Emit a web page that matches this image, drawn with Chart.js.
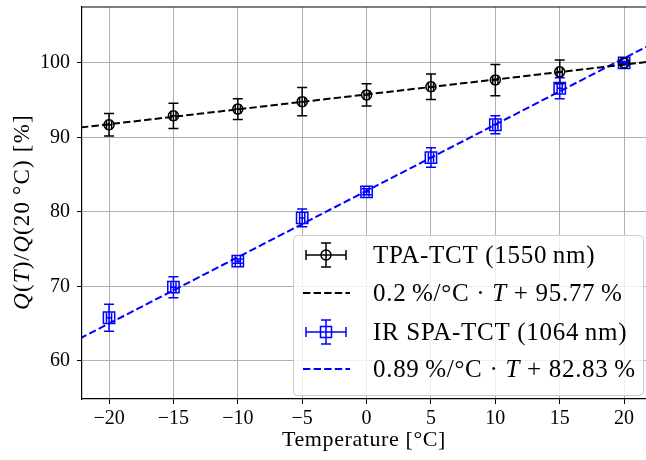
<!DOCTYPE html>
<html>
<head>
<meta charset="utf-8">
<script src="https://cdn.jsdelivr.net/npm/chart.js@4.4.1/dist/chart.umd.min.js"></script>
<style>
  html, body { margin: 0; padding: 0; background: #fff; }
  #wrap { width: 646px; height: 460px; }
</style>
</head>
<body>
<div id="wrap"><canvas id="chart" width="646" height="460"></canvas></div>
<script>
// values
const temps = [-20, -15, -10, -5, 0, 5, 10, 15, 20];
const tpaQ = [91.7, 92.9, 93.8, 94.8, 95.7, 96.8, 97.7, 98.8, 100];
const tpaErr = [1.5, 1.7, 1.4, 1.9, 1.5, 1.7, 2.1, 1.6, 0];
const irQ = [65.8, 69.9, 73.4, 79.2, 82.7, 87.3, 91.7, 96.6, 100];
const irErr = [1.8, 1.4, 0.3, 1.2, 0.4, 1.3, 1.2, 1.4, 0.2];
const tempErr = 0.2;

// fit parameters as given in the legend
const tpaSlope = 0.2, tpaIntercept = 95.77;
const irSlope = 0.89, irIntercept = 82.83;
const fitRange = [-23, 23];

const xTicks = [-20, -15, -10, -5, 0, 5, 10, 15, 20];
const yTicks = [60, 70, 80, 90, 100];

const SERIF = '"Liberation Serif", "DejaVu Serif", serif';
const BLUE = '#0000ff';

const points = (ys) => temps.map((t, i) => ({ x: t, y: ys[i] }));
const fitLine = (a, b) => fitRange.map(x => ({ x: x, y: a * x + b }));
const minus = v => String(v).replace('-', '\u2212');

// text made of plain / italic pieces
function richWidth(ctx, segs, size) {
  let w = 0;
  segs.forEach(([txt, it]) => {
    ctx.font = (it ? 'italic ' : '') + size + 'px ' + SERIF;
    w += ctx.measureText(txt).width;
  });
  return w;
}
function drawRich(ctx, segs, x, y, size) {
  segs.forEach(([txt, it]) => {
    ctx.font = (it ? 'italic ' : '') + size + 'px ' + SERIF;
    ctx.fillText(txt, x, y);
    x += ctx.measureText(txt).width;
  });
}

function errorBar(ctx, cx, cy, dx, dy, cap) {
  ctx.beginPath();
  ctx.moveTo(cx, cy - dy); ctx.lineTo(cx, cy + dy);
  ctx.moveTo(cx - cap, cy - dy); ctx.lineTo(cx + cap, cy - dy);
  ctx.moveTo(cx - cap, cy + dy); ctx.lineTo(cx + cap, cy + dy);
  ctx.moveTo(cx - dx, cy); ctx.lineTo(cx + dx, cy);
  ctx.moveTo(cx - dx, cy - cap); ctx.lineTo(cx - dx, cy + cap);
  ctx.moveTo(cx + dx, cy - cap); ctx.lineTo(cx + dx, cy + cap);
  ctx.stroke();
}

const errorBars = {
  id: 'errorBars',
  beforeDatasetsDraw(chart) {
    const { ctx, scales: { x, y }, chartArea } = chart;
    ctx.save();
    ctx.beginPath();
    ctx.rect(chartArea.left, chartArea.top, chartArea.width, chartArea.height);
    ctx.clip();
    ctx.lineWidth = 1.5;
    [[tpaQ, tpaErr, '#000'], [irQ, irErr, BLUE]].forEach(([vals, errs, col]) => {
      ctx.strokeStyle = col;
      temps.forEach((t, i) => {
        const cx = x.getPixelForValue(t), cy = y.getPixelForValue(vals[i]);
        const dx = x.getPixelForValue(t + tempErr) - cx;
        const dy = cy - y.getPixelForValue(vals[i] + errs[i]);
        errorBar(ctx, cx, cy, dx, dy, 5);
      });
    });
    ctx.restore();
  }
};

const decorations = {
  id: 'decorations',
  afterDraw(chart) {
    const { ctx, chartArea } = chart;
    ctx.save();
    // top spine
    ctx.strokeStyle = '#000';
    ctx.lineWidth = 1.2;
    ctx.beginPath();
    ctx.moveTo(chartArea.left, chartArea.top);
    ctx.lineTo(chartArea.right, chartArea.top);
    ctx.stroke();

    ctx.fillStyle = '#000';
    ctx.textBaseline = 'alphabetic';

    // x axis title
    ctx.letterSpacing = '0.6px';
    const xt = [['Temperature [\u00b0C]', false]];
    const xw = richWidth(ctx, xt, 22);
    drawRich(ctx, xt, (chartArea.left + chartArea.right) / 2 - xw / 2, 446, 22);

    // y axis title
    ctx.letterSpacing = '1.2px';
    const yt = [['Q', true], ['(', false], ['T', true], [')/', false], ['Q', true], ['(20\u2009\u00b0C) [%]', false]];
    const yw = richWidth(ctx, yt, 23);
    ctx.save();
    ctx.translate(29, 212);
    ctx.rotate(-Math.PI / 2);
    drawRich(ctx, yt, -yw / 2, 0, 23);
    ctx.restore();

    // legend
    const bx = 293, by = 235, bw = 350, bh = 160;
    ctx.beginPath();
    ctx.roundRect(bx + 0.5, by + 0.5, bw, bh, 4);
    ctx.fillStyle = 'rgba(255,255,255,0.8)';
    ctx.fill();
    ctx.strokeStyle = '#cccccc';
    ctx.lineWidth = 1;
    ctx.stroke();

    const rows = [
      { kind: 'err', color: '#000', marker: 'circle', y: 255,
        text: [['TPA-TCT (1550\u2009nm)', false]] },
      { kind: 'fit', color: '#000', y: 293,
        text: [[tpaSlope + '\u2009%/\u00b0C \u00b7 ', false], ['T', true], [' + ' + tpaIntercept + '\u2009%', false]] },
      { kind: 'err', color: BLUE, marker: 'rect', y: 332,
        text: [['IR SPA-TCT (1064\u2009nm)', false]] },
      { kind: 'fit', color: BLUE, y: 369,
        text: [[irSlope + '\u2009%/\u00b0C \u00b7 ', false], ['T', true], [' + ' + irIntercept + '\u2009%', false]] }
    ];
    ctx.letterSpacing = '0.7px';
    rows.forEach(r => {
      ctx.strokeStyle = r.color;
      if (r.kind === 'err') {
        ctx.lineWidth = 1.5;
        errorBar(ctx, 326, r.y, 20, 12, 5);
        ctx.beginPath();
        if (r.marker === 'circle') ctx.arc(326, r.y, 5, 0, Math.PI * 2);
        else ctx.rect(320.5, r.y - 5.5, 11, 11);
        ctx.stroke();
      } else {
        ctx.lineWidth = 2;
        ctx.setLineDash([7.4, 3.2]);
        ctx.beginPath();
        ctx.moveTo(303, r.y); ctx.lineTo(350, r.y);
        ctx.stroke();
        ctx.setLineDash([]);
      }
      ctx.fillStyle = '#000';
      drawRich(ctx, r.text, 373, r.y + 8, 25);
    });
    ctx.restore();
  }
};

new Chart(document.getElementById('chart'), {
  type: 'scatter',
  data: {
    datasets: [
      {
        label: 'TPA-TCT (1550 nm)',
        data: points(tpaQ),
        pointStyle: 'circle',
        pointRadius: 5,
        borderColor: '#000',
        backgroundColor: 'rgba(0,0,0,0)',
        borderWidth: 1.5,
        showLine: false,
        order: 2
      },
      {
        label: 'TPA fit',
        data: fitLine(tpaSlope, tpaIntercept),
        showLine: true,
        borderColor: '#000',
        borderWidth: 2,
        borderDash: [7.4, 3.2],
        pointRadius: 0,
        order: 1
      },
      {
        label: 'IR SPA-TCT (1064 nm)',
        data: points(irQ),
        pointStyle: 'rect',
        pointRadius: 8,
        borderColor: BLUE,
        backgroundColor: 'rgba(0,0,0,0)',
        borderWidth: 1.5,
        showLine: false,
        order: 4
      },
      {
        label: 'IR fit',
        data: fitLine(irSlope, irIntercept),
        showLine: true,
        borderColor: BLUE,
        borderWidth: 2,
        borderDash: [7.4, 3.2],
        pointRadius: 0,
        order: 3
      }
    ]
  },
  options: {
    responsive: false,
    animation: false,
    devicePixelRatio: 1,
    layout: { autoPadding: false, padding: { top: 7, left: 0, right: 0, bottom: 0 } },
    plugins: { legend: { display: false }, tooltip: { enabled: false } },
    scales: {
      x: {
        type: 'linear',
        min: -22.1,
        max: 21.7,
        afterBuildTicks: ax => { ax.ticks = xTicks.map(v => ({ value: v })); },
        afterFit: ax => { ax.height = 61; ax.paddingLeft = 0; ax.paddingRight = 0; },
        grid: { color: '#b0b0b0', lineWidth: 1, tickColor: '#000', tickLength: 5 },
        border: { display: true, color: '#000', width: 1.2 },
        ticks: {
          color: '#000', padding: 3, maxRotation: 0,
          font: { family: SERIF, size: 20 },
          callback: v => minus(v)
        }
      },
      y: {
        type: 'linear',
        min: 54.9,
        max: 107.5,
        afterBuildTicks: ax => { ax.ticks = yTicks.map(v => ({ value: v })); },
        afterFit: ax => { ax.width = 82; ax.paddingTop = 0; ax.paddingBottom = 0; },
        grid: { color: '#b0b0b0', lineWidth: 1, tickColor: '#000', tickLength: 5 },
        border: { display: true, color: '#000', width: 1.2 },
        ticks: {
          color: '#000', padding: 7,
          font: { family: SERIF, size: 20 },
          callback: v => minus(v)
        }
      }
    }
  },
  plugins: [errorBars, decorations]
});
</script>
</body>
</html>
